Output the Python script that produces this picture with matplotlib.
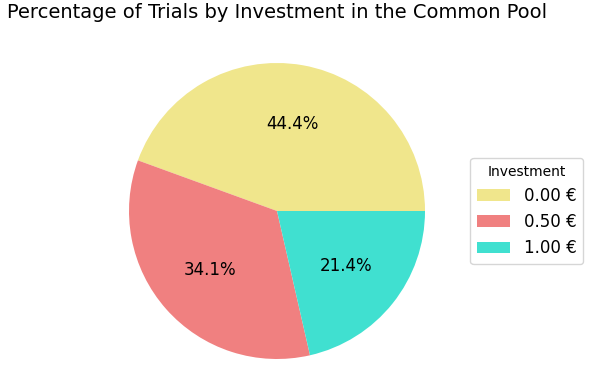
import matplotlib.pyplot as plt

labels = ["0.00 €", "0.50 €", "1.00 €"]
shares = [44.4, 34.1, 21.4]
colors = ["khaki", "lightcoral", "turquoise"]


def main() -> None:
    fig = plt.figure(figsize=(5.89, 3.69), dpi=100)
    ax = fig.add_axes([0.1939, -0.013, 0.5528, 0.8824])

    wedges, _texts, _autotexts = ax.pie(
        shares,
        colors=colors,
        autopct="%1.1f%%",
        startangle=0,
        textprops={"fontsize": 12},
    )
    ax.set_xlim(-1.1, 1.1)
    ax.set_ylim(-1.1, 1.1)
    ax.set_aspect("equal")

    fig.text(
        277 / 589,
        1 - 12 / 369,
        "Percentage of Trials by Investment in the Common Pool",
        ha="center",
        va="center",
        fontsize=14,
    )

    fig.legend(
        wedges,
        labels,
        title="Investment",
        loc="center left",
        bbox_to_anchor=(462 / 589, 158 / 369),
        fontsize=12,
        title_fontsize=10,
    )

    fig.savefig("out.png", dpi=100)


if __name__ == "__main__":
    main()
